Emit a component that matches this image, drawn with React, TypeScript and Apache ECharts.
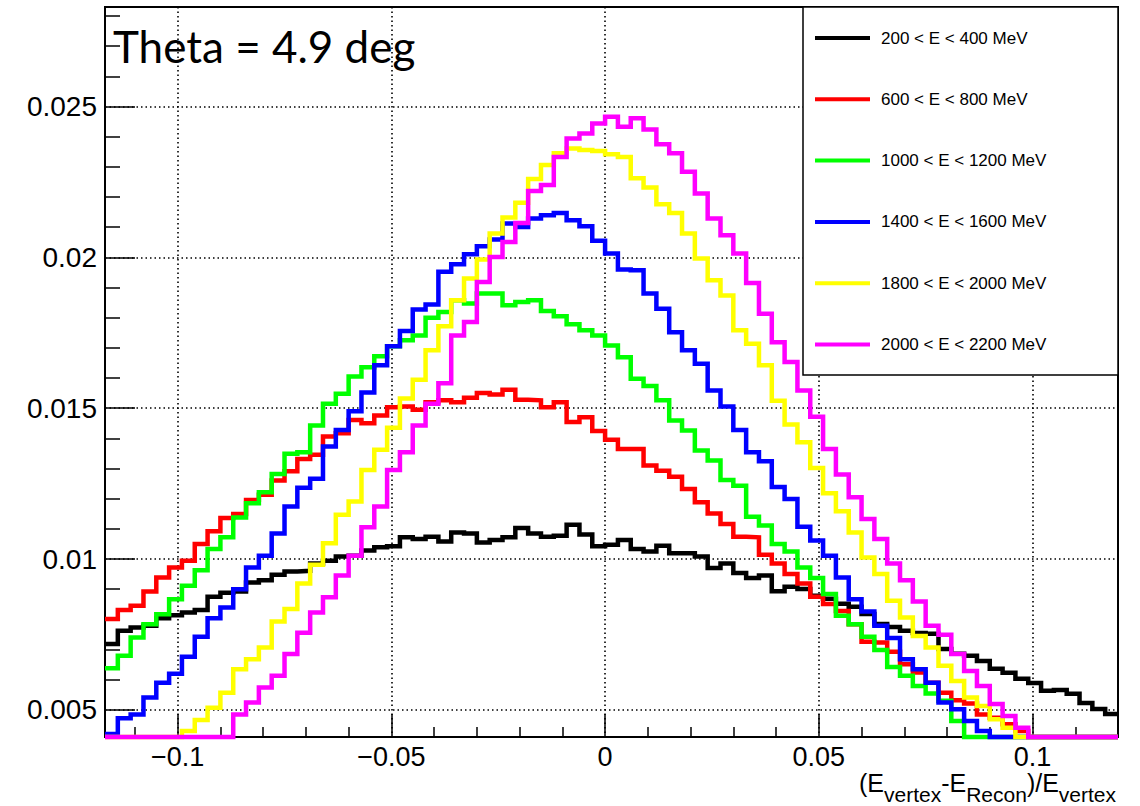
import React, { useEffect, useRef } from "react";
import * as echarts from "echarts";

// Histogram binning (bin edges start at HIST_MIN, width BIN_WIDTH)
const HIST_MIN = -0.117;
const BIN_WIDTH = 0.003;

const X_MIN = -0.117;
const X_MAX = 0.12;
const Y_MIN = 0.0041;
const Y_MAX = 0.0283;

const X_MAJOR = [-0.1, -0.05, 0, 0.05, 0.1];
const X_MAJOR_LABELS = ["\u22120.1", "\u22120.05", "0", "0.05", "0.1"];
const X_MINOR = [-0.11, -0.09, -0.08, -0.07, -0.06, -0.04, -0.03, -0.02, -0.01, 0.01, 0.02, 0.03, 0.04, 0.06, 0.07, 0.08, 0.09, 0.11];
const Y_MAJOR = [0.005, 0.01, 0.015, 0.02, 0.025];
const Y_MAJOR_LABELS = ["0.005", "0.01", "0.015", "0.02", "0.025"];
const Y_MINOR = [0.006, 0.007, 0.008, 0.009, 0.011, 0.012, 0.013, 0.014, 0.016, 0.017, 0.018, 0.019, 0.021, 0.022, 0.023, 0.024, 0.026, 0.027, 0.028];

const SERIES_NAMES = [
  "200 < E < 400 MeV",
  "600 < E < 800 MeV",
  "1000 < E < 1200 MeV",
  "1400 < E < 1600 MeV",
  "1800 < E < 2000 MeV",
  "2000 < E < 2200 MeV",
];
const SERIES_COLORS = ["#000000", "#ff0000", "#00ff00", "#0000ff", "#ffff00", "#ff00ff"];

const E200_400 = [
  0.00718, 0.00762, 0.00773, 0.00779, 0.00804, 0.00814, 0.00823, 0.00831, 0.00875, 0.00888,
  0.00892, 0.00922, 0.0093, 0.00948, 0.00959, 0.00961, 0.00985, 0.00994, 0.01008, 0.01011,
  0.01028, 0.01039, 0.01042, 0.01072, 0.01066, 0.01074, 0.01058, 0.01088, 0.01085, 0.01055,
  0.01063, 0.01072, 0.01103, 0.01085, 0.01074, 0.01077, 0.01114, 0.01081, 0.01042, 0.01047,
  0.01063, 0.01033, 0.01025, 0.01044, 0.01019, 0.01019, 0.01008, 0.0097, 0.00985, 0.00954,
  0.00937, 0.00945, 0.00893, 0.00908, 0.00901, 0.00878, 0.00868, 0.00852, 0.00842, 0.00818,
  0.00785, 0.00775, 0.00762, 0.00755, 0.00752, 0.00702, 0.00686, 0.00679, 0.00662, 0.00636,
  0.00623, 0.00603, 0.00589, 0.00563, 0.00566, 0.00553, 0.00523, 0.00503, 0.00486,
];
const E600_800 = [
  0.00801, 0.00831, 0.00845, 0.00892, 0.00939, 0.00972, 0.00994, 0.0105, 0.01092, 0.01136,
  0.01149, 0.01196, 0.01213, 0.0126, 0.01291, 0.01332, 0.01346, 0.01406, 0.01417, 0.01461,
  0.0145, 0.01476, 0.01503, 0.01506, 0.01495, 0.0152, 0.01526, 0.0152, 0.01535, 0.0155,
  0.01545, 0.01561, 0.01528, 0.01526, 0.01503, 0.0152, 0.01454, 0.0147, 0.01424, 0.01395,
  0.01365, 0.01365, 0.0131, 0.01293, 0.01273, 0.01232, 0.01188, 0.01151, 0.01116, 0.01074,
  0.01072, 0.01014, 0.00985, 0.0095, 0.00919, 0.00875, 0.00851, 0.00828, 0.00784, 0.00726,
  0.00723, 0.00693, 0.00651, 0.00624, 0.0059, 0.00557, 0.00532, 0.00521, 0.00485, 0.00474,
  0.00452, 0.0043, 0.0041, 0.0041, 0.0041, 0.0041, 0.0041, 0.0041, 0.0041,
];
const E1000_1200 = [
  0.00638, 0.00679, 0.0074, 0.00784, 0.00817, 0.00867, 0.00911, 0.00963, 0.01033, 0.01072,
  0.01138, 0.01185, 0.01221, 0.01282, 0.01349, 0.01354, 0.01443, 0.01515, 0.01548, 0.01605,
  0.01636, 0.01672, 0.01705, 0.01725, 0.01741, 0.018, 0.01819, 0.01858, 0.01847, 0.0188,
  0.0188, 0.01841, 0.01852, 0.01858, 0.01822, 0.01805, 0.01778, 0.01758, 0.01741, 0.01708,
  0.01669, 0.01598, 0.01574, 0.01526, 0.01459, 0.01426, 0.0136, 0.01327, 0.01262, 0.01243,
  0.0114, 0.01111, 0.0105, 0.01025, 0.00972, 0.00937, 0.00884, 0.00812, 0.00784, 0.00742,
  0.00698, 0.00642, 0.00613, 0.00579, 0.00554, 0.0053, 0.00463, 0.0041, 0.0041, 0.0041,
  0.0041, 0.0041, 0.0041, 0.0041, 0.0041, 0.0041, 0.0041, 0.0041, 0.0041,
];
const E1400_1600 = [
  0.0042, 0.00472, 0.00485, 0.00541, 0.0059, 0.0062, 0.00676, 0.00742, 0.00804, 0.00839,
  0.009, 0.00972, 0.01011, 0.01085, 0.01174, 0.01236, 0.01266, 0.01373, 0.01428, 0.0149,
  0.01552, 0.01642, 0.01705, 0.01756, 0.01827, 0.01844, 0.01952, 0.01977, 0.0201, 0.02037,
  0.02059, 0.02112, 0.02101, 0.02129, 0.0214, 0.02147, 0.02123, 0.02103, 0.02055, 0.02013,
  0.0196, 0.01957, 0.0188, 0.0183, 0.01752, 0.01692, 0.01647, 0.01559, 0.01506, 0.01428,
  0.01354, 0.01324, 0.01239, 0.01199, 0.01107, 0.01061, 0.01011, 0.00939, 0.00867, 0.00826,
  0.00779, 0.00738, 0.00668, 0.00635, 0.0059, 0.00524, 0.00502, 0.00463, 0.0043, 0.0041,
  0.0041, 0.0041, 0.0041, 0.0041, 0.0041, 0.0041, 0.0041, 0.0041, 0.0041,
];
const E1800_2000 = [
  0.0041, 0.0041, 0.0041, 0.0041, 0.0041, 0.0041, 0.0043, 0.00466, 0.00507, 0.00557,
  0.00635, 0.00668, 0.00707, 0.00793, 0.00834, 0.00919, 0.00981, 0.01052, 0.01147, 0.01191,
  0.01295, 0.01362, 0.01435, 0.01532, 0.01594, 0.01692, 0.01772, 0.01858, 0.0193, 0.01993,
  0.02079, 0.02132, 0.02181, 0.0226, 0.02306, 0.02345, 0.02361, 0.02356, 0.02353, 0.02342,
  0.02333, 0.02262, 0.02232, 0.02176, 0.02147, 0.02079, 0.01996, 0.01924, 0.01874, 0.01758,
  0.01714, 0.01642, 0.01525, 0.01446, 0.01387, 0.01302, 0.01218, 0.01158, 0.01088, 0.01005,
  0.0095, 0.00862, 0.00806, 0.00745, 0.00707, 0.00646, 0.00596, 0.00541, 0.00513, 0.00469,
  0.00441, 0.0041, 0.0041, 0.0041, 0.0041, 0.0041, 0.0041, 0.0041, 0.0041,
];
const E2000_2200 = [
  0.0041, 0.0041, 0.0041, 0.0041, 0.0041, 0.0041, 0.0041, 0.0041, 0.0041, 0.0041,
  0.00485, 0.00524, 0.00574, 0.00613, 0.00685, 0.00756, 0.00823, 0.00873, 0.00945, 0.01011,
  0.01105, 0.01174, 0.01295, 0.01354, 0.01443, 0.01515, 0.01583, 0.01741, 0.01786, 0.01918,
  0.02001, 0.02051, 0.02114, 0.0222, 0.0224, 0.02333, 0.02394, 0.02411, 0.02444, 0.02466,
  0.02433, 0.02461, 0.02424, 0.02375, 0.02345, 0.02284, 0.02212, 0.02129, 0.02073, 0.02013,
  0.01915, 0.01813, 0.01719, 0.01653, 0.01559, 0.01472, 0.01365, 0.0128, 0.01205, 0.01133,
  0.01066, 0.00985, 0.0093, 0.00859, 0.00779, 0.00749, 0.00685, 0.00629, 0.00579, 0.00519,
  0.0048, 0.00441, 0.0041, 0.0041, 0.0041, 0.0041, 0.0041, 0.0041, 0.0041,
];

const SERIES_VALUES = [E200_400, E600_800, E1000_1200, E1400_1600, E1800_2000, E2000_2200];

function toSteps(vals: number[]): number[][] {
  const pts = vals.map((v, i) => [HIST_MIN + BIN_WIDTH * i, v]);
  pts.push([HIST_MIN + BIN_WIDTH * vals.length, vals[vals.length - 1]]);
  return pts;
}

function labelFor(ticks: number[], labels: string[], v: number): string {
  const i = ticks.findIndex((t) => Math.abs(t - v) < 1e-9);
  return i >= 0 ? labels[i] : "";
}

const AXIS_FONT = "'Liberation Sans', Arial, Helvetica, sans-serif";

export default function App() {
  const ref = useRef<HTMLDivElement>(null);

  useEffect(() => {
    if (!ref.current) return;
    const chart = echarts.init(ref.current, null, { renderer: "svg" });
    const gridRect = { left: 105, top: 7, width: 1013, height: 730 };

    const option: any = {
      animation: false,
      backgroundColor: "#ffffff",
      title: {
        text: "Theta = 4.9 deg",
        left: 113,
        top: 24,
        padding: 0,
        textStyle: {
          fontFamily: "Lato, 'Open Sans', sans-serif",
          fontSize: 44,
          fontWeight: "normal",
          color: "#000000",
        },
      },
      legend: {
        data: SERIES_NAMES,
        orient: "vertical",
        left: 815,
        top: 28,
        padding: 0,
        itemWidth: 55,
        itemHeight: 4,
        itemGap: 41.3,
        icon: "rect",
        selectedMode: false,
        z: 10,
        textStyle: {
          fontFamily: AXIS_FONT,
          fontSize: 17,
          color: "#000000",
          lineHeight: 20,
          padding: [0, 0, 0, 6],
        },
      },
      graphic: [
        {
          type: "rect",
          z: 5,
          shape: { x: 803, y: 7, width: 315, height: 368 },
          style: { fill: "#ffffff", stroke: "#000000", lineWidth: 1.5 },
          silent: true,
        },
      ],
      grid: [
        {
          ...gridRect,
          show: true,
          borderColor: "#000000",
          borderWidth: 2,
          backgroundColor: "transparent",
          containLabel: false,
          outerBoundsMode: "none",
        },
        {
          ...gridRect,
          show: false,
          containLabel: false,
          outerBoundsMode: "none",
        },
      ],
      xAxis: [
        {
          type: "value",
          gridIndex: 0,
          min: X_MIN,
          max: X_MAX,
          axisLine: { show: true, onZero: false, lineStyle: { color: "#000000", width: 2 } },
          axisTick: {
            show: true,
            inside: true,
            length: 23,
            customValues: X_MAJOR,
            lineStyle: { color: "#000000", width: 1.5 },
          },
          axisLabel: {
            show: true,
            customValues: X_MAJOR,
            formatter: (v: number) => labelFor(X_MAJOR, X_MAJOR_LABELS, v),
            color: "#000000",
            fontFamily: AXIS_FONT,
            fontSize: 27,
            lineHeight: 27,
            margin: 6,
          },
          splitLine: {
            show: true,
            lineStyle: { color: "#000000", type: [1.5, 3], width: 1.6 },
          },
          name: "{m|(E}{s|vertex}{m|-E}{s|Recon}{m|)/E}{s|vertex}",
          nameLocation: "end",
          nameGap: -2,
          nameMoveOverlap: false,
          nameTextStyle: {
            align: "right",
            verticalAlign: "top",
            padding: [33.5, 0, 0, 0],
            rich: {
              m: {
                fontFamily: AXIS_FONT,
                fontSize: 25,
                lineHeight: 25,
                color: "#000000",
                verticalAlign: "top",
              },
              s: {
                fontFamily: AXIS_FONT,
                fontSize: 21,
                lineHeight: 21,
                color: "#000000",
                verticalAlign: "top",
                padding: [13.5, 0, 0, 0],
              },
            },
          },
        },
        {
          type: "value",
          gridIndex: 1,
          min: X_MIN,
          max: X_MAX,
          axisLine: { show: false, onZero: false },
          axisTick: {
            show: true,
            inside: true,
            length: 10,
            customValues: X_MINOR,
            lineStyle: { color: "#000000", width: 1.5 },
          },
          axisLabel: { show: false },
          splitLine: { show: false },
        },
      ],
      yAxis: [
        {
          type: "value",
          gridIndex: 0,
          min: Y_MIN,
          max: Y_MAX,
          axisLine: { show: true, onZero: false, lineStyle: { color: "#000000", width: 2 } },
          axisTick: {
            show: true,
            inside: true,
            length: 30,
            customValues: Y_MAJOR,
            lineStyle: { color: "#000000", width: 1.5 },
          },
          axisLabel: {
            show: true,
            customValues: Y_MAJOR,
            formatter: (v: number) => labelFor(Y_MAJOR, Y_MAJOR_LABELS, v),
            color: "#000000",
            fontFamily: AXIS_FONT,
            fontSize: 28,
            margin: 8,
          },
          splitLine: {
            show: true,
            lineStyle: { color: "#000000", type: [1.5, 3], width: 1.6 },
          },
        },
        {
          type: "value",
          gridIndex: 1,
          min: Y_MIN,
          max: Y_MAX,
          axisLine: { show: false, onZero: false },
          axisTick: {
            show: true,
            inside: true,
            length: 15,
            customValues: Y_MINOR,
            lineStyle: { color: "#000000", width: 1.5 },
          },
          axisLabel: { show: false },
          splitLine: { show: false },
        },
      ],
      series: SERIES_VALUES.map((vals, k) => ({
        type: "line",
        name: SERIES_NAMES[k],
        xAxisIndex: 0,
        yAxisIndex: 0,
        data: toSteps(vals),
        step: "end",
        showSymbol: false,
        symbol: "none",
        clip: false,
        color: SERIES_COLORS[k],
        lineStyle: { color: SERIES_COLORS[k], width: 4.5, cap: "butt", join: "miter" },
        emphasis: { disabled: true },
        z: 2,
      })),
    };

    chart.setOption(option);
    return () => {
      chart.dispose();
    };
  }, []);

  return (
    <div
      ref={ref}
      style={{ position: "fixed", left: 0, top: 0, width: 1140, height: 806, background: "#ffffff" }}
    />
  );
}
